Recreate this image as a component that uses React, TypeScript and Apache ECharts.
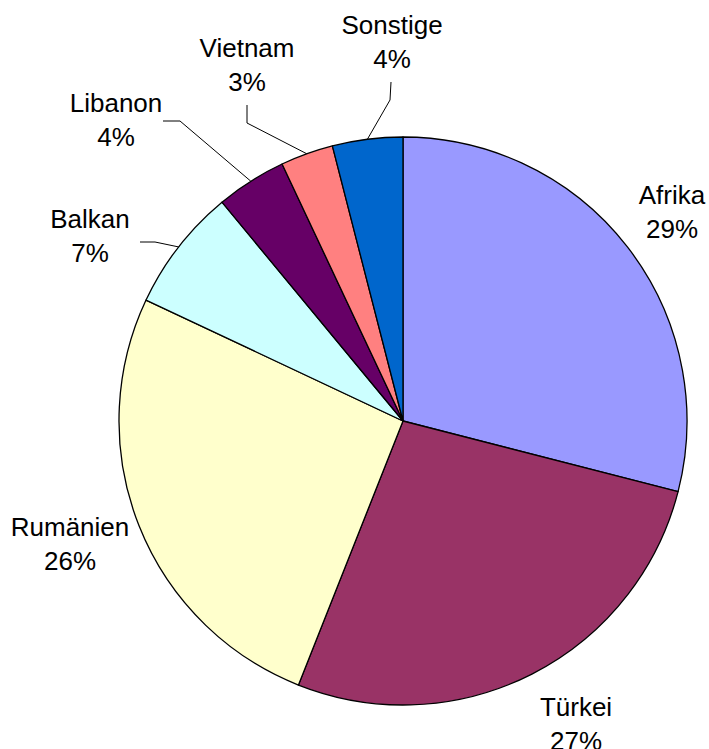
import React, { useEffect, useRef } from "react";
import * as echarts from "echarts";

const categories = ["Afrika", "Türkei", "Rumänien", "Balkan", "Libanon", "Vietnam", "Sonstige"];
const values = [29, 27, 26, 7, 4, 3, 4];
const colors = ["#9999FF", "#993366", "#FFFFCC", "#CCFFFF", "#660066", "#FF8080", "#0066CC"];

// label layout (label centre, leader bend, leader end) in px
const labelCenters: number[][] = [
  [672, 212], [576, 724], [70, 544], [90, 236], [116, 120], [247, 65], [392, 42],
];
const leaderBends: (number[] | null)[] = [null, null, null, [155, 242], [180, 121], [247, 123], [390, 100]];
const leaderEnds: (number[] | null)[] = [null, null, null, [140, 242], [163, 121], [247, 105], [391, 82]];

const CX = 403;
const CY = 421;
const R = 284;

export default function App() {
  const ref = useRef<HTMLDivElement>(null);
  useEffect(() => {
    document.body.style.margin = "0";
    const chart = echarts.init(ref.current!, null, { renderer: "svg" });
    const total = values.reduce((a, b) => a + b, 0);
    const midAngles: number[] = [];
    let acc = 0;
    values.forEach((v) => {
      midAngles.push(((acc + v / 2) / total) * Math.PI * 2);
      acc += v;
    });
    chart.setOption({
      animation: false,
      backgroundColor: "#ffffff",
      series: [
        {
          type: "pie",
          center: [CX, CY],
          radius: R,
          startAngle: 90,
          clockwise: true,
          data: categories.map((name, i) => ({
            name,
            value: values[i],
            itemStyle: { color: colors[i] },
            labelLine: { show: leaderBends[i] !== null },
          })),
          itemStyle: { borderColor: "#000000", borderWidth: 1.3 },
          label: {
            show: true,
            position: "outside",
            formatter: (p: any) => `${p.name}\n${Math.round(p.percent)}%`,
            fontFamily: "Liberation Sans, Arial, sans-serif",
            fontSize: 26,
            lineHeight: 34,
            color: "#000000",
            align: "center",
            overflow: "none",
            edgeDistance: 0,
            bleedMargin: 0,
          },
          labelLine: {
            show: true,
            lineStyle: { color: "#000000", width: 1 },
          },
          labelLayout: (params: any) => {
            const i = params.dataIndex;
            const a = midAngles[i];
            const start = [CX + R * Math.sin(a), CY - R * Math.cos(a)];
            const res: any = {
              x: labelCenters[i][0],
              y: labelCenters[i][1],
              align: "center",
              verticalAlign: "middle",
              width: 200,
            };
            if (leaderBends[i]) {
              res.labelLinePoints = [start, leaderBends[i], leaderEnds[i]];
            }
            return res;
          },
        },
      ],
    });
    return () => chart.dispose();
  }, []);
  return <div ref={ref} style={{ width: 709, height: 749 }} />;
}
